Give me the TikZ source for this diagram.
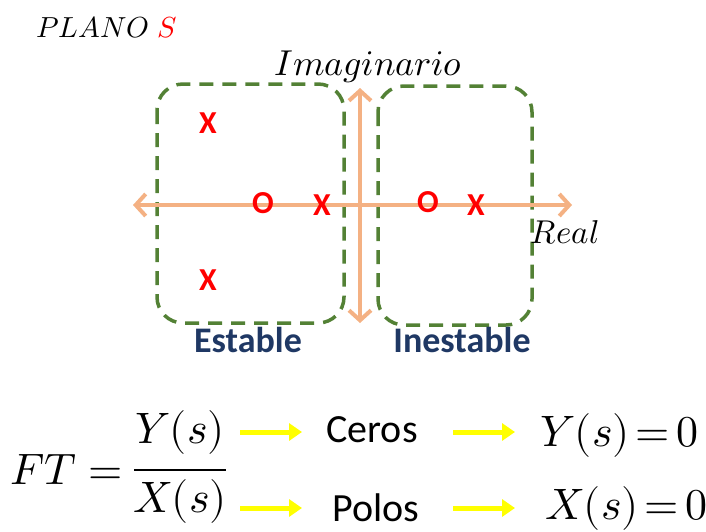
\documentclass[tikz,border=0pt]{standalone}
\usepackage{fontspec}
\usepackage{unicode-math}
\setmathfont{Latin Modern Math}
\newfontfamily\calib{Carlito}
\usetikzlibrary{arrows.meta}
\definecolor{peach}{HTML}{F4B183}
\definecolor{dgreen}{HTML}{538135}
\definecolor{dblue}{HTML}{1F3864}
\definecolor{yel}{HTML}{FFFF00}
\tikzset{
  region/.style={draw=dgreen, line width=3.5pt, dash pattern=on 14pt off 9pt, rounded corners=26pt},
  axis/.style={draw=peach, line width=4pt, {Straight Barb[length=10pt,width=22pt]}-{Straight Barb[length=10pt,width=22pt]}},
  yarrow/.style={draw=yel, line width=5pt, -{Triangle[length=13pt,width=17pt]}},
  pzmark/.style={text=red, font=\calib\bfseries\fontsize{32}{32}\selectfont, inner sep=0pt},
  lbl/.style={text=dblue, font=\calib\bfseries\fontsize{36}{36}\selectfont, inner sep=0pt},
  word/.style={font=\calib\fontsize{40}{40}\selectfont, inner sep=0pt},
  mth/.style={font=\fontsize{44}{44}\selectfont, inner sep=0pt},
  ital/.style={font=\fontsize{36}{36}\selectfont, inner sep=0pt}
}
\begin{document}
\begin{tikzpicture}[x=1pt,y=-1pt]
\useasboundingbox (0,0) rectangle (706,531);
% title
\node[font=\fontsize{29}{29}\selectfont, inner sep=0pt, anchor=west] (title) at (36,27) {$PLANO\ {\color{red}S}$};
% regions
\draw[region] (157,84) rectangle (344,323);
\draw[region] (378,86) rectangle (532,325);
% axes
\coordinate (L) at (133,205);
\coordinate (R) at (572,205);
\coordinate (T) at (360,88);
\coordinate (B) at (360,323);
\draw[axis] (L) -- (R);
\draw[axis] (T) -- (B);
\node[ital] (imag) at (368,67) {$Imaginario$};
\node[font=\fontsize{33}{33}\selectfont, inner sep=0pt] (real) at (565,232) {$Real$};
% poles and zeros
\node[pzmark] (p1) at (208,123) {X};
\node[pzmark] (p2) at (208,280) {X};
\node[pzmark] (p3) at (322,205) {X};
\node[pzmark] (p4) at (476,205) {X};
\node[pzmark] (z1) at (263,203) {O};
\node[pzmark] (z2) at (428,202) {O};
\node[lbl] (est) at (248,340) {Estable};
\node[lbl] (inest) at (462,340) {Inestable};
% formula
\node[mth, anchor=west] (ft) at (10,470) {$FT=$};
\node[mth] (num) at (180,432) {$Y(s)$};
\node[mth] (den) at (180,501) {$X(s)$};
\coordinate (barL) at (134,470);
\coordinate (barR) at (226,470);
\draw[line width=2pt] (barL) -- (barR);
\node[word] (ceros) at (372,430) {Ceros};
\node[word] (polos) at (376,508) {Polos};
\node[mth, anchor=west] (yeq) at (540,435) {$Y(s)\mkern2.5mu{=}\mkern2.5mu0$};
\node[mth, anchor=west] (xeq) at (545,508) {$X(s)\mkern2.5mu{=}\mkern2.5mu0$};
\coordinate (a1s) at (240,432); \coordinate (a1e) at (302,432);
\coordinate (a2s) at (240,508); \coordinate (a2e) at (302,508);
\coordinate (a3s) at (453,432); \coordinate (a3e) at (515,432);
\coordinate (a4s) at (453,508); \coordinate (a4e) at (515,508);
\draw[yarrow] (a1s) -- (a1e);
\draw[yarrow] (a2s) -- (a2e);
\draw[yarrow] (a3s) -- (a3e);
\draw[yarrow] (a4s) -- (a4e);
\end{tikzpicture}
\end{document}
